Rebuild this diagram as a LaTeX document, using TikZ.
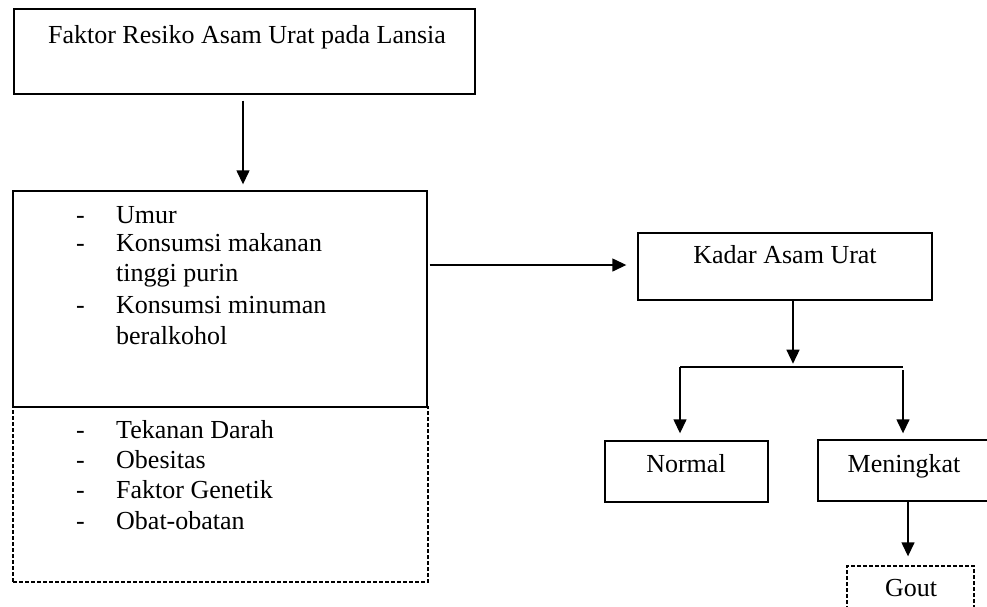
\documentclass[tikz,border=0pt]{standalone}
\usepackage{fontspec}
\setmainfont{Liberation Serif}
\usetikzlibrary{arrows.meta,calc}
\begin{document}
\begin{tikzpicture}[x=1pt,y=-1pt,
  box/.style={draw, line width=1.4pt, rectangle, inner sep=0pt},
  dbox/.style={box, dash pattern=on 4pt off 2pt},
  arr/.style={line width=1.4pt, -{Triangle[length=14pt,width=13pt]}},
  ln/.style={line width=1.4pt},
  txt/.style={font=\fontsize{26}{30}\selectfont, inner sep=0pt, anchor=base},
  ltxt/.style={txt, anchor=base west}]
\useasboundingbox (0,0) rectangle (987,606);
\clip (0,0) rectangle (987,606);
\fill[white] (0,0) rectangle (987,606);

% boxes
\node[box, minimum width=461pt, minimum height=85pt] (top) at (244.5,51.5) {};
\node[box, minimum width=414pt, minimum height=216pt] (risk) at (220,299) {};
\node[dbox, minimum width=415pt, minimum height=175pt] (other) at (220.5,494.5) {};
\node[box, minimum width=294pt, minimum height=67pt] (kadar) at (785,266.5) {};
\node[box, minimum width=163pt, minimum height=61pt] (normal) at (686.5,471.5) {};
\node[box, minimum width=182pt, minimum height=61pt] (mening) at (909,470.5) {};
\node[dbox, minimum width=127pt, minimum height=60pt] (gout) at (910.5,596) {};

% texts
\node[txt] (ttop) at (247,43) {Faktor Resiko Asam Urat pada Lansia};
\node[txt] (tkadar) at (785,263) {Kadar Asam Urat};
\node[txt] (tnormal) at (686,472) {Normal};
\node[txt] (tmening) at (904,472) {Meningkat};
\node[txt] (tgout) at (911,596) {Gout};

\node[ltxt] (d1) at (76,223) {-};
\node[ltxt] (l1) at (116,223) {Umur};
\node[ltxt] (d2) at (76,251) {-};
\node[ltxt] (l2) at (116,251) {Konsumsi makanan};
\node[ltxt] (l3) at (116,281) {tinggi purin};
\node[ltxt] (d4) at (76,313) {-};
\node[ltxt] (l4) at (116,313) {Konsumsi minuman};
\node[ltxt] (l5) at (116,344) {beralkohol};

\node[ltxt] (d6) at (76,438) {-};
\node[ltxt] (l6) at (116,438) {Tekanan Darah};
\node[ltxt] (d7) at (76,468) {-};
\node[ltxt] (l7) at (116,468) {Obesitas};
\node[ltxt] (d8) at (76,498) {-};
\node[ltxt] (l8) at (116,498) {Faktor Genetik};
\node[ltxt] (d9) at (76,529) {-};
\node[ltxt] (l9) at (116,529) {Obat-obatan};

% connectors
\coordinate (jl) at (680,367);
\coordinate (jr) at (903,367);

\draw[arr] ($(top.south)+(-1.5,6)$) -- ($(top.south |- risk.north)+(-1.5,-6)$);
\draw[arr] ($(kadar.west -| risk.east)+(2,-1.5)$) -- ($(kadar.west)+(-11,-1.5)$);
\draw[arr] ($(kadar.south)+(8,0)$) -- ($(kadar.south -| jl)+(113,63)$);
\draw[ln] (jl) -- (jr);
\draw[arr, shorten >=7pt] (jl) -- (jl |- normal.north);
\draw[arr, shorten >=6pt] ($(jr)+(0,3)$) -- (jr |- mening.north);
\draw[arr, shorten >=9pt] ($(mening.south)+(-1,0)$) -- ($(mening.south |- gout.north)+(-1,0)$);
\end{tikzpicture}
\end{document}
